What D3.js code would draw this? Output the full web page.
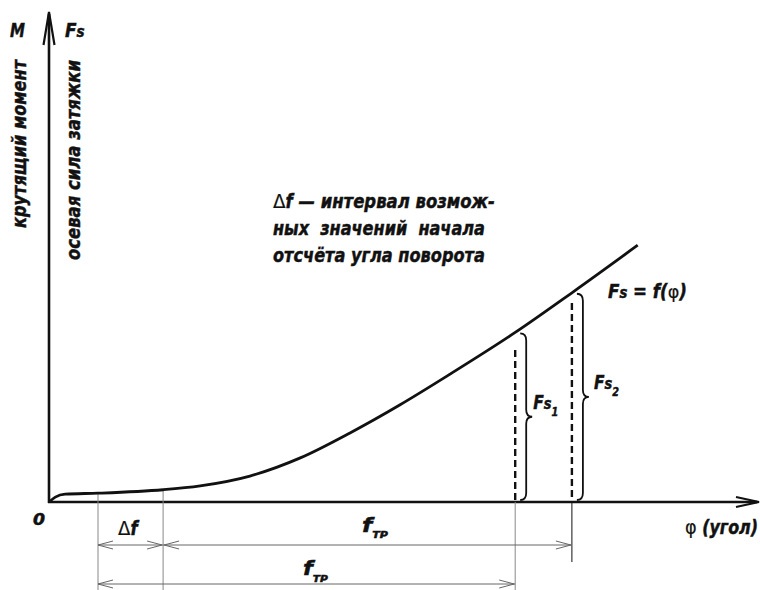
<!DOCTYPE html>
<html lang="ru">
<head>
    <meta charset="UTF-8">
    <title>Fs = f(φ)</title>
    <script src="https://d3js.org/d3.v7.min.js"></script>
    <style>
        * { margin: 0; padding: 0; box-sizing: border-box; }
        body { background: #fff; }
        svg text {
            font-family: "Liberation Sans Narrow", "DejaVu Sans Condensed", "Arial Narrow", sans-serif;
            font-weight: bold;
            font-style: italic;
            fill: #111;
            stroke: #111;
            stroke-width: 0.45px;
            white-space: pre;
        }
        svg .plain { font-family: "DejaVu Sans", "Liberation Sans", sans-serif; font-weight: normal; font-style: normal; stroke-width: 0.2px; }
    </style>
</head>
<body>
    <div id="chart"></div>
    <script>
        // кривая Fs = f(φ), условные единицы
        const phiValues = [0, 0.9, 2.3, 7, 16.3, 21.6, 28.7, 35.9, 43, 50.1, 57.3, 66.6, 74.7, 84.1];
        const fsValues  = [0, 1.0, 1.6, 1.8, 2.5, 3.3, 5.3, 9.0, 14.1, 19.8, 26.1, 34.6, 42.7, 52.4];

        // отметки угла
        const deltaStart = 7;      // начало интервала Δf
        const deltaEnd = 16.3;     // конец интервала Δf
        const phiMarks = [66.6, 74.7];        // φ для Fs1, Fs2
        const fsMarks = [34.6, 42.7];         // Fs1, Fs2
        const dashTops = [31.0, 40.6];        // верх пунктира
        const markNames = ["1", "2"];

        const noteLines = ["интервал возмож-", "ных  значений  начала", "отсчёта угла поворота"];

        const W = 760, H = 590;
        const x = d3.scaleLinear().domain([0, 100]).range([49, 749]);
        const y = d3.scaleLinear().domain([0, 100]).range([502, 12]);

        const svg = d3.select("#chart").append("svg")
            .attr("width", W).attr("height", H);

        const x0 = x(0), y0 = y(0);

        // текст из кусков, сжатый по ширине до заданной
        function label(px, py, width, parts, size) {
            const t = svg.append("text").attr("x", 0).attr("y", 0).attr("font-size", size);
            parts.forEach(p => {
                const s = t.append("tspan").text(p.t);
                if (p.size) s.attr("font-size", p.size);
                if (p.plain) s.attr("class", "plain");
                if (p.dy) s.attr("dy", p.dy);
            });
            const w = t.node().getBBox().width;
            t.attr("transform", `translate(${px},${py}) scale(${width / w},1)`);
            return t;
        }

        // оси
        svg.append("line").attr("x1", x0).attr("y1", y0 + 1).attr("x2", x0).attr("y2", 14)
            .attr("stroke", "#111").attr("stroke-width", 2.6);
        svg.append("path").attr("d", `M${x0 - 5.5},45 L${x0},12 L${x0 + 5.5},45`)
            .attr("fill", "none").attr("stroke", "#111").attr("stroke-width", 2.2);
        svg.append("line").attr("x1", x0 - 1).attr("y1", y0).attr("x2", 757).attr("y2", y0)
            .attr("stroke", "#111").attr("stroke-width", 2.6);
        svg.append("path").attr("d", `M736,${y0 - 5} L759,${y0} L736,${y0 + 5}`)
            .attr("fill", "none").attr("stroke", "#111").attr("stroke-width", 2.2);

        // выносные линии
        const ext = svg.append("g").attr("stroke", "#888").attr("stroke-width", 1);
        const curvePts = phiValues.map((p, i) => [p, fsValues[i]]);
        ext.append("line").attr("x1", x(deltaStart)).attr("x2", x(deltaStart)).attr("y1", y(1.8)).attr("y2", H);
        ext.append("line").attr("x1", x(deltaEnd)).attr("x2", x(deltaEnd)).attr("y1", y(2.5)).attr("y2", H);
        ext.append("line").attr("x1", x(phiMarks[0])).attr("x2", x(phiMarks[0])).attr("y1", y0).attr("y2", H);
        svg.append("line").attr("x1", x(phiMarks[1])).attr("x2", x(phiMarks[1])).attr("y1", y0).attr("y2", 562)
            .attr("stroke", "#111").attr("stroke-width", 1);

        // размерные линии
        const dimY1 = 545, dimY2 = 584;
        const dim = svg.append("g").attr("stroke", "#666").attr("stroke-width", 1).attr("fill", "none");
        function arrowHead(g, px, py, dir) {
            g.append("path").attr("d", `M${px - dir * 15},${py - 4} L${px},${py} L${px - dir * 15},${py + 4}`);
        }
        dim.append("line").attr("x1", x(deltaStart)).attr("x2", x(phiMarks[1])).attr("y1", dimY1).attr("y2", dimY1);
        arrowHead(dim, x(deltaStart), dimY1, -1);
        arrowHead(dim, x(deltaEnd) - 1, dimY1, 1);
        arrowHead(dim, x(deltaEnd) + 1, dimY1, -1);
        arrowHead(dim, x(phiMarks[1]) - 1, dimY1, 1);
        dim.append("line").attr("x1", x(deltaStart)).attr("x2", x(phiMarks[0])).attr("y1", dimY2).attr("y2", dimY2);
        arrowHead(dim, x(deltaStart), dimY2, -1);
        arrowHead(dim, x(phiMarks[0]) - 1, dimY2, 1);

        // кривая
        const line = d3.line().x(d => x(d[0])).y(d => y(d[1])).curve(d3.curveMonotoneX);
        svg.append("path").datum(curvePts).attr("d", line)
            .attr("fill", "none").attr("stroke", "#111").attr("stroke-width", 2.8);

        // пунктир и фигурные скобки
        function bracePath(bx, top, bottom, w) {
            const mid = (top + bottom) / 2, r = 7, h = w / 2;
            return `M${bx},${top} Q${bx + h},${top} ${bx + h},${top + r}` +
                   ` L${bx + h},${mid - r} Q${bx + h},${mid} ${bx + w},${mid}` +
                   ` Q${bx + h},${mid} ${bx + h},${mid + r}` +
                   ` L${bx + h},${bottom - r} Q${bx + h},${bottom} ${bx},${bottom}`;
        }
        phiMarks.forEach((p, i) => {
            svg.append("line").attr("x1", x(p)).attr("x2", x(p))
                .attr("y1", y(dashTops[i])).attr("y2", y0)
                .attr("stroke", "#111").attr("stroke-width", 2.4).attr("stroke-dasharray", "7,4");
            const top = y(fsMarks[i]) + 1, bottom = y0 - 2;
            const bx = x(p) + 5;
            svg.append("path").attr("d", bracePath(bx, top, bottom, 12))
                .attr("fill", "none").attr("stroke", "#111").attr("stroke-width", 1.8);
            const mid = (top + bottom) / 2;
            label(x(p) + 18 + i * 4, mid - 8, 25, [
                { t: "F" }, { t: "s", size: 16 }, { t: markNames[i], size: 12, dy: 7 }
            ], 19);
        });

        // подписи осей
        label(10, 37, 15, [{ t: "M" }], 20);
        label(65, 37, 20, [{ t: "F" }, { t: "s", size: 16 }], 20);

        svg.append("text").attr("transform", "translate(26,228) rotate(-90)")
            .attr("font-size", 19).attr("textLength", 168).attr("lengthAdjust", "spacingAndGlyphs")
            .text("крутящий момент");
        svg.append("text").attr("transform", "translate(80,260) rotate(-90)")
            .attr("font-size", 19).attr("textLength", 200).attr("lengthAdjust", "spacingAndGlyphs")
            .text("осевая сила затяжки");

        label(33, 525, 12, [{ t: "0" }], 15);

        label(685, 534, 73, [{ t: "φ ", plain: true }, { t: "(угол)" }], 19);

        // Fs = f(φ)
        label(608, 298, 79, [
            { t: "F" }, { t: "s", size: 15 }, { t: " = f(" }, { t: "φ", plain: true, size: 18 }, { t: ")" }
        ], 19);

        // пояснение
        label(273, 208, 222, [{ t: "Δ", plain: true }, { t: "f — " + noteLines[0] }], 20);
        label(273, 235, 212, [{ t: noteLines[1] }], 20);
        label(273, 262, 212, [{ t: noteLines[2] }], 20);

        // размерные подписи
        label(118, 535, 22, [{ t: "Δ", plain: true }, { t: "f" }], 19);
        label(362, 532, 26, [{ t: "f" }, { t: "TP", size: 9, dy: 6 }], 19);
        label(303, 575, 25, [{ t: "f" }, { t: "TP", size: 9, dy: 7 }], 19);
    </script>
</body>
</html>
